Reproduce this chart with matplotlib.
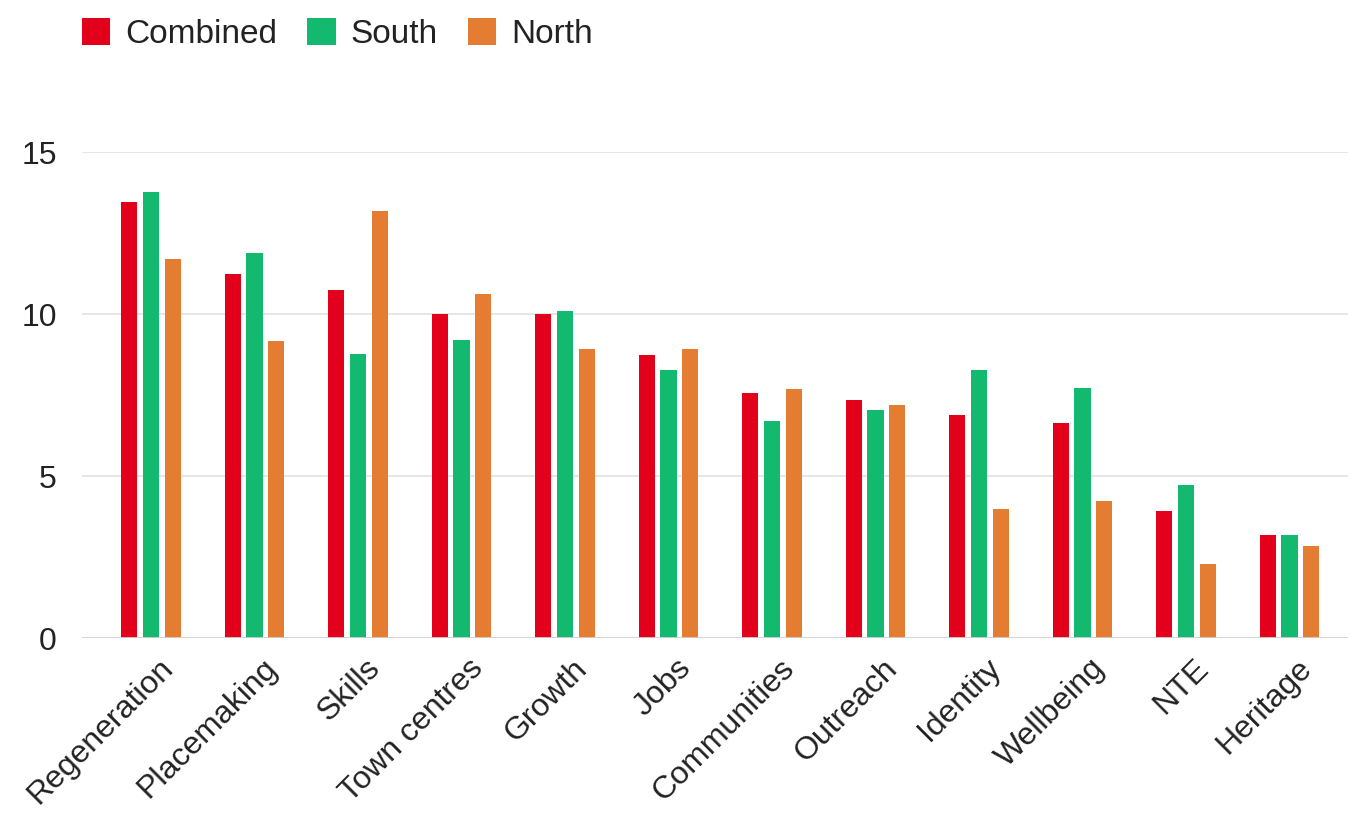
import numpy as np
import matplotlib
matplotlib.use("Agg")
import matplotlib.pyplot as plt
import matplotlib.transforms as mtransforms

# ================== DATA ==================
categories = ["Regeneration", "Placemaking", "Skills", "Town centres", "Growth", "Jobs",
              "Communities", "Outreach", "Identity", "Wellbeing", "NTE", "Heritage"]
combined = [13.45, 11.23, 10.75, 10.0, 10.0, 8.75, 7.55, 7.36, 6.87, 6.63, 3.91, 3.17]
south = [13.77, 11.88, 8.77, 9.2, 10.08, 8.27, 6.71, 7.04, 8.27, 7.71, 4.73, 3.17]
north = [11.71, 9.18, 13.18, 10.63, 8.92, 8.92, 7.69, 7.2, 3.99, 4.23, 2.27, 2.84]
yticks = [0, 5, 10, 15]

series = [("Combined", combined, "#e2001a"),
          ("South", south, "#13b96e"),
          ("North", north, "#e47c32")]

# ================== PLOT ==================
plt.rcParams["font.family"] = ["Liberation Sans", "DejaVu Sans"]
TEXT = "#222222"

fig = plt.figure(figsize=(13.51, 8.16), dpi=100)
ax = fig.add_axes([82 / 1351, 1 - 638 / 816, (1348 - 82) / 1351, (638 - 152) / 816])

x = np.arange(len(categories))
step = 0.21
width = 0.158
for i, (name, vals, col) in enumerate(series):
    ax.bar(x + (i - 1) * step, vals, width, color=col, label=name, zorder=3)

ax.set_xlim(-0.667, 11.565)
ax.set_ylim(0, 15)
ax.set_yticks(yticks)
ax.set_yticklabels([str(t) for t in yticks], fontsize=23, color=TEXT)
ax.set_xticks(x)
ax.set_xticklabels(categories, rotation=45, ha="right", rotation_mode="anchor",
                   fontsize=23, color=TEXT)
ax.tick_params(axis="y", length=0, pad=18)
ax.tick_params(axis="x", length=0, pad=11)

# nudge the rotated labels a little to the right
shift = mtransforms.ScaledTranslation(7 / 100, 0, fig.dpi_scale_trans)
for lab in ax.get_xticklabels():
    lab.set_transform(lab.get_transform() + shift)

for t in yticks[1:]:
    ax.axhline(t, color="#e2e2e2", lw=1.2, zorder=1)
ax.axhline(0, color="#d0d0d0", lw=2, zorder=4)

for s in ax.spines.values():
    s.set_visible(False)

fig.legend(loc="upper left", bbox_to_anchor=(82 / 1351, 1 - 18 / 816), ncol=3,
           frameon=False, fontsize=24, handlelength=0.85, handleheight=0.85,
           handletextpad=0.45, columnspacing=0.9, borderpad=0, borderaxespad=0,
           labelcolor=TEXT)

fig.savefig("out.png", dpi=100, facecolor="white")
